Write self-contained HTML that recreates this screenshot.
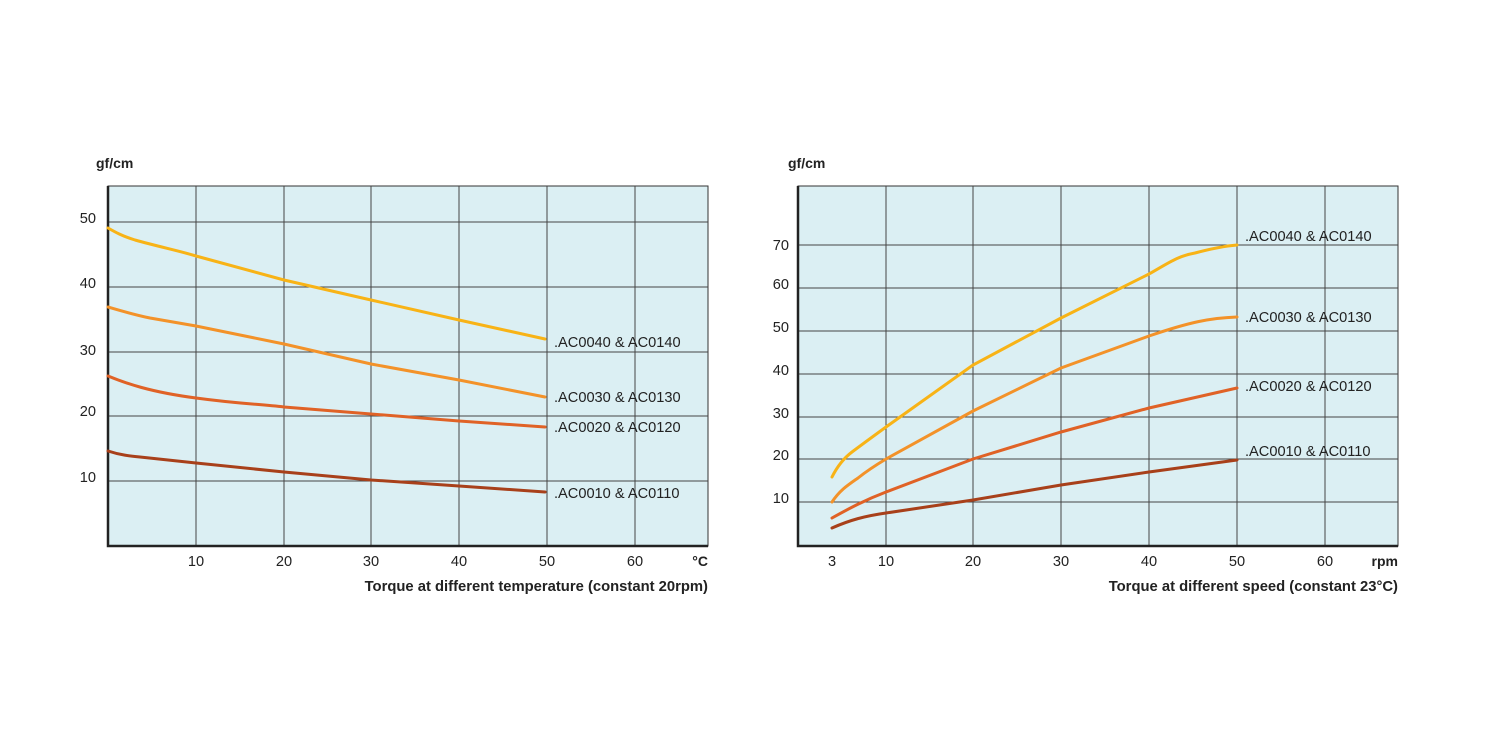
<!DOCTYPE html>
<html><head><meta charset="utf-8"><style>body{margin:0;background:#fff}svg{display:block}</style></head><body>
<svg width="1500" height="750" xmlns="http://www.w3.org/2000/svg" font-family="Liberation Sans, Arial, sans-serif">
<g>
<rect x="108" y="186" width="600" height="360" fill="#dbeff3" stroke="#333" stroke-width="1"/>
<g stroke="#444" stroke-width="1">
<line x1="196" y1="186" x2="196" y2="546"/><line x1="284" y1="186" x2="284" y2="546"/><line x1="371" y1="186" x2="371" y2="546"/><line x1="459" y1="186" x2="459" y2="546"/><line x1="547" y1="186" x2="547" y2="546"/><line x1="635" y1="186" x2="635" y2="546"/>
<line x1="108" y1="222" x2="708" y2="222"/><line x1="108" y1="287" x2="708" y2="287"/><line x1="108" y1="352" x2="708" y2="352"/><line x1="108" y1="416" x2="708" y2="416"/><line x1="108" y1="481" x2="708" y2="481"/>
</g>
<path d="M108 186V546H708" fill="none" stroke="#222" stroke-width="2.5"/>
<g fill="none" stroke-width="3" stroke-linecap="round">
<path d="M108 228 C115 232,122 236,135 240 C160 247,180 251,196 256 L284 280 L371 300 L459 320 L545 339" stroke="#f8b316"/>
<path d="M108 307 C125 312,135 315,150 318 L196 326 L284 344 L371 364 L459 380 L545 397" stroke="#f39229"/>
<path d="M108 376 C125 383,150 392,196 398 C240 404,260 404,284 407 L371 414 L459 421 L545 427" stroke="#e06226"/>
<path d="M108 451 C120 455,130 456,140 457 L196 463 L284 472 L371 480 L459 486 L545 492" stroke="#a8401a"/>
</g>
<g font-size="14.6" fill="#222">
<text x="96" y="168" font-weight="bold" font-size="14">gf/cm</text>
<g text-anchor="end"><text x="96" y="223">50</text><text x="96" y="288">40</text><text x="96" y="355">30</text><text x="96" y="416">20</text><text x="96" y="482">10</text></g>
<g text-anchor="middle"><text x="196" y="566">10</text><text x="284" y="566">20</text><text x="371" y="566">30</text><text x="459" y="566">40</text><text x="547" y="566">50</text><text x="635" y="566">60</text></g>
<text x="708" y="566" text-anchor="end" font-weight="bold" font-size="14">°C</text>
<text x="708" y="591" text-anchor="end" font-weight="bold" font-size="14.8">Torque at different temperature (constant 20rpm)</text>
<text x="554" y="347">.AC0040 &amp; AC0140</text><text x="554" y="402">.AC0030 &amp; AC0130</text><text x="554" y="432">.AC0020 &amp; AC0120</text><text x="554" y="498">.AC0010 &amp; AC0110</text>
</g>
</g>
<g>
<rect x="798" y="186" width="600" height="360" fill="#dbeff3" stroke="#333" stroke-width="1"/>
<g stroke="#444" stroke-width="1">
<line x1="886" y1="186" x2="886" y2="546"/><line x1="973" y1="186" x2="973" y2="546"/><line x1="1061" y1="186" x2="1061" y2="546"/><line x1="1149" y1="186" x2="1149" y2="546"/><line x1="1237" y1="186" x2="1237" y2="546"/><line x1="1325" y1="186" x2="1325" y2="546"/>
<line x1="798" y1="245" x2="1398" y2="245"/><line x1="798" y1="288" x2="1398" y2="288"/><line x1="798" y1="331" x2="1398" y2="331"/><line x1="798" y1="374" x2="1398" y2="374"/><line x1="798" y1="417" x2="1398" y2="417"/><line x1="798" y1="459" x2="1398" y2="459"/><line x1="798" y1="502" x2="1398" y2="502"/>
</g>
<path d="M798 186V546H1398" fill="none" stroke="#222" stroke-width="2.5"/>
<g fill="none" stroke-width="3" stroke-linecap="round">
<path d="M832 477 C838 465,844 458,852 452 C864 443,875 435,886 427 L973 365 L1061 318 L1149 274 C1170 262,1178 256,1195 253 C1210 249,1225 246,1237 245" stroke="#f8b316"/>
<path d="M832 502 C840 490,848 485,858 478 C868 470,876 465,886 459 L973 411 L1061 368 L1149 336 C1190 322,1210 318,1237 317" stroke="#f39229"/>
<path d="M832 518 C850 508,865 500,886 492 L973 459 L1061 432 L1149 408 L1237 388" stroke="#e06226"/>
<path d="M832 528 C850 520,865 516,886 513 L973 500 L1061 485 L1149 472 L1237 460" stroke="#a8401a"/>
</g>
<g font-size="14.6" fill="#222">
<text x="788" y="168" font-weight="bold" font-size="14">gf/cm</text>
<g text-anchor="end"><text x="789" y="250">70</text><text x="789" y="289">60</text><text x="789" y="332">50</text><text x="789" y="375">40</text><text x="789" y="418">30</text><text x="789" y="460">20</text><text x="789" y="503">10</text></g>
<g text-anchor="middle"><text x="832" y="566">3</text><text x="886" y="566">10</text><text x="973" y="566">20</text><text x="1061" y="566">30</text><text x="1149" y="566">40</text><text x="1237" y="566">50</text><text x="1325" y="566">60</text></g>
<text x="1398" y="566" text-anchor="end" font-weight="bold" font-size="14">rpm</text>
<text x="1398" y="591" text-anchor="end" font-weight="bold" font-size="14.8">Torque at different speed (constant 23°C)</text>
<text x="1245" y="241">.AC0040 &amp; AC0140</text><text x="1245" y="322">.AC0030 &amp; AC0130</text><text x="1245" y="391">.AC0020 &amp; AC0120</text><text x="1245" y="456">.AC0010 &amp; AC0110</text>
</g>
</g>
</svg>
</body></html>
